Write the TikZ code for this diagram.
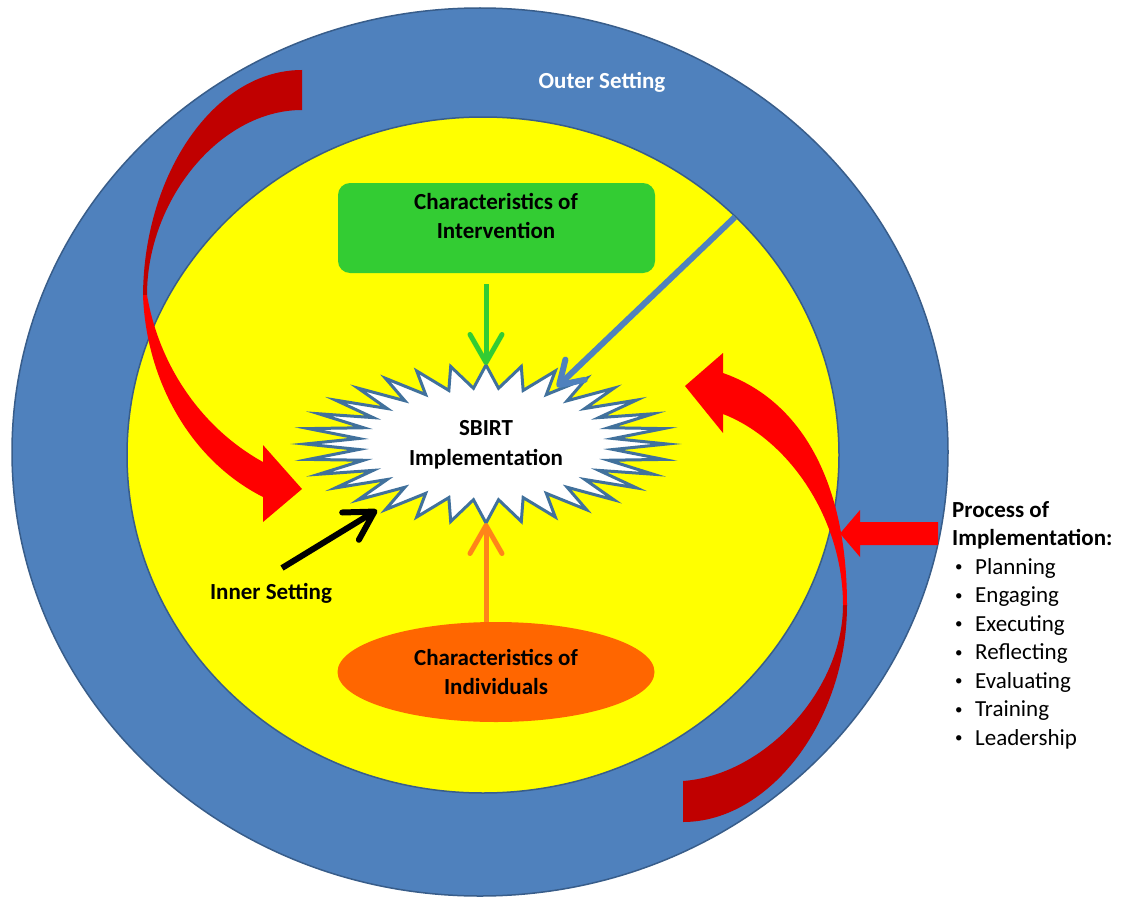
\documentclass[tikz,border=0pt]{standalone}
\usepackage{fontspec}
\setmainfont{Carlito}
\usetikzlibrary{arrows.meta,positioning,shapes.geometric}
\definecolor{ringBlue}{HTML}{4F81BD}
\definecolor{ringEdge}{HTML}{385D8A}
\definecolor{innerYellow}{HTML}{FFFF00}
\definecolor{intGreen}{HTML}{33CC33}
\definecolor{indOrange}{HTML}{FF6600}
\definecolor{upOrange}{HTML}{FF8419}
\definecolor{burstEdge}{HTML}{41719C}
\definecolor{procRed}{HTML}{FF0000}
\definecolor{backRed}{HTML}{C00000}

\begin{document}
\begin{tikzpicture}[x=1pt,y=-1pt,
  bigtext/.style={font=\fontsize{23}{29.5}\selectfont\bfseries,align=center,inner sep=0pt},
  proctext/.style={font=\fontsize{23}{28.5}\selectfont,anchor=base west,inner sep=0pt},
  feeder/.style={line width=5pt,-{Straight Barb[round,length=28pt,width=32pt]}}]
  \fill[white] (0,0) rectangle (1127,899);
  \useasboundingbox (0,0) rectangle (1127,899);
  % the two settings
  \draw[ringEdge,line width=1.5pt,fill=ringBlue] (480,452) ellipse[x radius=468,y radius=444];
  \draw[ringEdge,line width=1.5pt,fill=innerYellow] (483,455) ellipse[x radius=356,y radius=338];
  \node[bigtext,text=white] (outer) at (602,82) {Outer Setting};
  % intervention box and individuals
  \node[fill=intGreen,rounded corners=12pt,minimum width=317pt,minimum height=90pt,inner sep=0pt] (interv) at (496.5,228) {};
  \node[bigtext] (intervtext) at (496,216) {Characteristics of\\Intervention};
  \node[ellipse,fill=indOrange,minimum width=317pt,minimum height=100pt,inner sep=0pt,bigtext] (indiv) at (496,672) {Characteristics of\\Individuals};
  % burst
  \coordinate (burstC) at (486,444);
  \coordinate (burstTop) at (486,365);
  \coordinate (burstBot) at (486,523);
  \draw[burstEdge,line width=3pt,fill=white] (667,444)
    \foreach \k in {1,...,63}{ -- ({486+ifthenelse(isodd(\k),128,181)*cos(\k*5.625)},{444+ifthenelse(isodd(\k),56,79)*sin(\k*5.625)})} -- cycle;
  \node[bigtext] (sbirt) at (486,445) {SBIRT\\Implementation};
  % feeders
  \draw[feeder,intGreen,shorten <=11pt] (interv.south -| burstTop) -- (burstTop);
  \draw[feeder,upOrange] (indiv.north -| burstBot) -- (burstBot);
  \coordinate (ringPt) at (735,217);
  \coordinate (blueTip) at (557,387);
  \draw[ringBlue,line width=6pt,-{Straight Barb[round,length=22pt,width=28pt]}] (ringPt) -- (blueTip);
  \node[bigtext] (innerlbl) at (271,593) {Inner Setting};
  \coordinate (innerTail) at (282,568);
  \coordinate (innerTip) at (377,510);
  \draw[feeder,black,line width=6pt] (innerTail) -- (innerTip);
  % left curved arrow
  \fill[backRed] (302,70) .. controls (215,70) and (144,173) .. (143,295) -- (147,295)
    .. controls (147,200) and (220,110) .. (302,110) -- cycle;
  \fill[procRed] (143,295) .. controls (146,380) and (190,460) .. (263,497) -- (263,522) -- (302,489)
    -- (263,445) -- (263,462) .. controls (205,430) and (160,370) .. (147,295) -- cycle;
  % right curved arrow
  \fill[backRed] (847,605) .. controls (847,720) and (770,822) .. (683,822) -- (683,781)
    .. controls (765,775) and (843,690) .. (843,605) -- cycle;
  \fill[procRed] (847,605) .. controls (847,480) and (800,400) .. (723,373) -- (723,353) -- (685,386)
    -- (723,433) -- (723,414) .. controls (790,440) and (843,520) .. (843,605) -- cycle;
  \fill[procRed] (938,522) -- (860,522) -- (860,510) -- (840,533.5) -- (860,557) -- (860,545) -- (938,545) -- cycle;
  % process list
  \node[proctext,font=\fontsize{23}{28.5}\selectfont\bfseries] (proc1) at (952,517.4) {Process of};
  \node[proctext,font=\fontsize{23}{28.5}\selectfont\bfseries] (proc2) at (952,545.5) {Implementation:};
  \foreach \stage [count=\i] in {Planning,Engaging,Executing,Reflecting,Evaluating,Training,Leadership}
    \node[proctext] (stage\i) at (952,545.9+28.5*\i) {\makebox[23pt][l]{\hspace{3pt}\raisebox{2.5pt}{\fontsize{15}{15}\selectfont\textbullet}}\stage};
\end{tikzpicture}
\end{document}
